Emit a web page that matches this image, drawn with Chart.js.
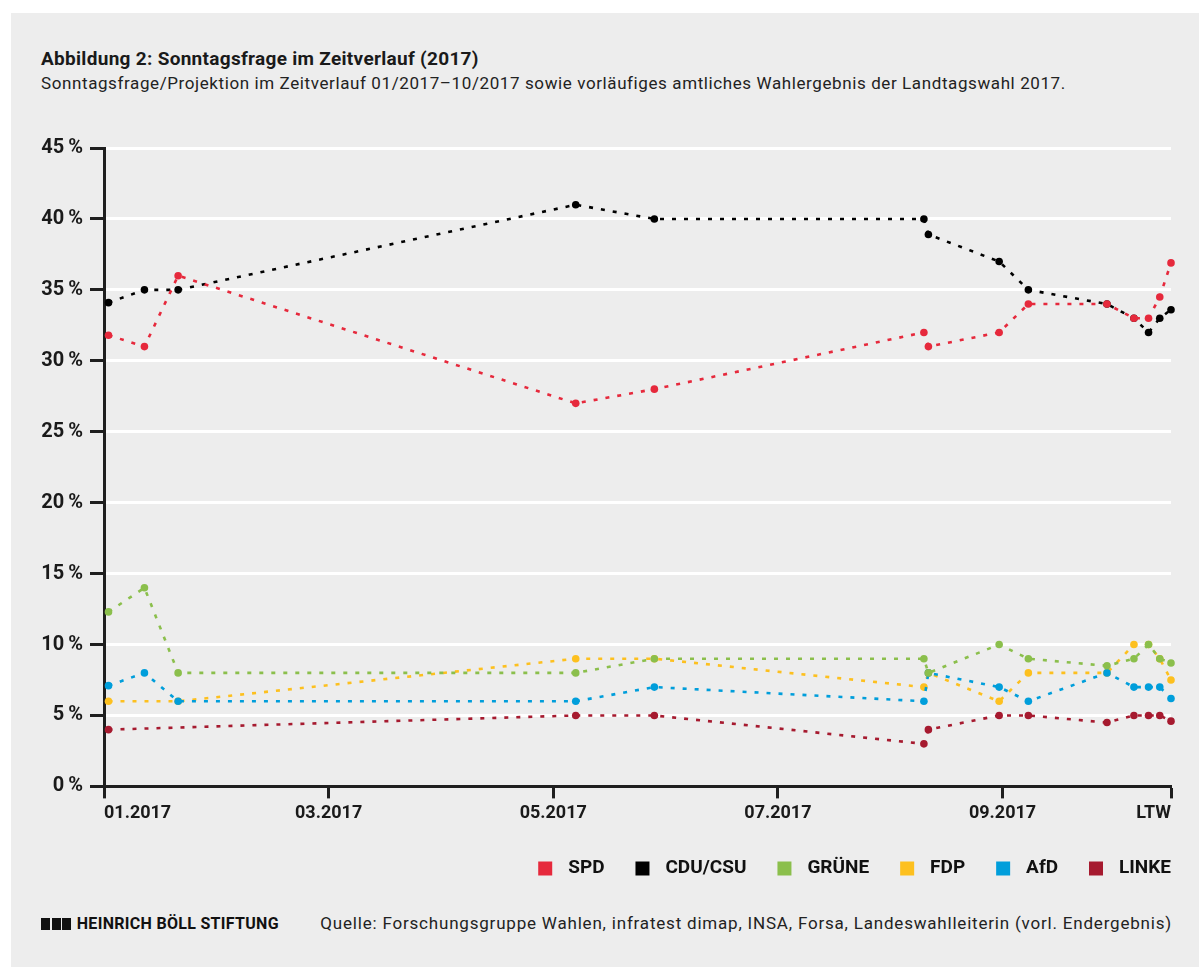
<!DOCTYPE html>
<html>
<head>
<meta charset="utf-8">
<script src="https://cdn.jsdelivr.net/npm/chart.js@4.4.1/dist/chart.umd.min.js"></script>
<style>
  html, body { margin: 0; padding: 0; background: #fff; }
  body { width: 1199px; height: 967px; position: relative; overflow: hidden; font-family: Roboto, "Noto Sans", sans-serif; }
  #panel { position: absolute; left: 11px; top: 13px; right: 0; bottom: 0; background: #ededed; }
  #title { position: absolute; left: 41px; top: 47px; font-size: 19px; font-weight: 700; color: #1a1a1a; letter-spacing: 0.3px; white-space: nowrap; }
  #subtitle { position: absolute; left: 41px; top: 73px; font-size: 17px; color: #222; letter-spacing: 0.6px; white-space: nowrap; }
  #wrap { position: absolute; left: 0; top: 0; width: 1199px; height: 888px; }
  #logo { position: absolute; left: 41px; top: 914px; font-size: 16px; font-weight: 700; color: #111; letter-spacing: 0.3px; white-space: nowrap; }
  #logo span { display: inline-block; width: 9px; height: 12px; background: #111; margin-right: 1.5px; vertical-align: -1px; }
  #source { position: absolute; right: 27px; top: 913px; font-size: 17px; color: #222; white-space: nowrap; letter-spacing: 0.8px; }
</style>
</head>
<body>
<div id="panel"></div>
<div id="title">Abbildung 2: Sonntagsfrage im Zeitverlauf (2017)</div>
<div id="subtitle">Sonntagsfrage/Projektion im Zeitverlauf 01/2017–10/2017 sowie vorläufiges amtliches Wahlergebnis der Landtagswahl 2017.</div>
<div id="wrap"><canvas id="pollChart"></canvas></div>
<div id="logo"><span></span><span></span><span></span> HEINRICH BÖLL STIFTUNG</div>
<div id="source">Quelle: Forschungsgruppe Wahlen, infratest dimap, INSA, Forsa, Landeswahlleiterin (vorl. Endergebnis)</div>

<script>
// poll dates in months since 01.2017 (last one = election day)
const pollDates = [0.04, 0.36, 0.66, 4.2, 4.9, 7.30, 7.34, 7.97, 8.23, 8.93, 9.17, 9.30, 9.40, 9.50];

const spd   = [31.8, 31, 36, 27, 28, 32, 31, 32, 34, 34, 33, 33, 34.5, 36.9];
const cdu   = [34.1, 35, 35, 41, 40, 40, 38.9, 37, 35, 34, 33, 32, 33, 33.6];
const gruene = [12.3, 14, 8, 8, 9, 9, 8, 10, 9, 8.5, 9, 10, 9, 8.7];
const fdp   = [6, null, 6, 9, 9, 7, 8, 6, 8, 8, 10, 10, 9, 7.5];
const afd   = [7.1, 8, 6, 6, 7, 6, 8, 7, 6, 8, 7, 7, 7, 6.2];
const linke = [4, null, null, 5, 5, 3, 4, 5, 5, 4.5, 5, 5, 5, 4.6];

const tickPositions = [0, 2, 4, 6, 8, 9.5];
const tickLabels = ['01.2017', '03.2017', '05.2017', '07.2017', '09.2017', 'LTW'];

function series(label, values, color, order) {
    return {
        label: label,
        data: values.map((v, i) => ({ x: pollDates[i], y: v })),
        borderColor: color,
        backgroundColor: color,
        borderWidth: 2.6,
        borderDash: [4, 8],
        pointRadius: 3.8,
        pointBorderWidth: 0,
        pointHoverRadius: 3.8,
        spanGaps: true,
        tension: 0,
        clip: false,
        order: order
    };
}

// legend is right-aligned to the plot edge, not to the trailing item padding
const legendShift = {
    id: 'legendShift',
    afterLayout(chart) {
        const pad = chart.options.plugins.legend.labels.padding;
        chart.legend.left += pad;
        chart.legend.right += pad;
    }
};

const ctx = document.getElementById('pollChart').getContext('2d');
const pollChart = new Chart(ctx, {
    type: 'line',
    data: {
        datasets: [
            series('SPD', spd, '#e6293c', 1),
            series('CDU/CSU', cdu, '#000000', 2),
            series('GRÜNE', gruene, '#8bbf4c', 3),
            series('FDP', fdp, '#fdc01f', 5),
            series('AfD', afd, '#009edb', 4),
            series('LINKE', linke, '#a61a2f', 6)
        ]
    },
    plugins: [legendShift],
    options: {
        responsive: true,
        maintainAspectRatio: false,
        animation: false,
        layout: { padding: { top: 148, right: 28, left: 0, bottom: 0 } },
        plugins: {
            tooltip: { enabled: false },
            legend: {
                position: 'bottom',
                align: 'end',
                labels: {
                    boxWidth: 14,
                    boxHeight: 14,
                    padding: 31,
                    color: '#111',
                    font: { family: 'Roboto', size: 19, weight: 'bold' },
                    generateLabels(chart) {
                        const items = Chart.defaults.plugins.legend.labels.generateLabels(chart);
                        items.forEach(item => {
                            item.text = '\u2004' + item.text;
                            item.lineWidth = 0;
                            item.lineDash = [];
                        });
                        return items.sort((a, b) => a.datasetIndex - b.datasetIndex);
                    }
                }
            }
        },
        scales: {
            x: {
                type: 'linear',
                min: 0,
                max: 9.5,
                afterBuildTicks(scale) {
                    scale.ticks = tickPositions.map(v => ({ value: v }));
                },
                ticks: {
                    align: 'inner',
                    padding: 4,
                    color: '#1a1a1a',
                    font: { family: 'Roboto', size: 18, weight: 'bold' },
                    callback(value) {
                        const i = tickPositions.indexOf(value);
                        return i >= 0 ? tickLabels[i] : '';
                    }
                },
                grid: {
                    drawOnChartArea: false,
                    drawTicks: true,
                    tickLength: 12,
                    tickColor: '#1e1e1e',
                    tickWidth: 3
                },
                border: { color: '#1e1e1e', width: 3 }
            },
            y: {
                min: 0,
                max: 45,
                afterFit(scale) { scale.width = 104; },
                ticks: {
                    stepSize: 5,
                    padding: 7,
                    color: '#1a1a1a',
                    font: { family: 'Roboto', size: 20, weight: 'bold' },
                    callback: value => value + '\u2009%'
                },
                grid: {
                    color: '#ffffff',
                    lineWidth: 3,
                    tickLength: 14,
                    tickColor: '#1e1e1e',
                    tickWidth: 3
                },
                border: { color: '#1e1e1e', width: 3 }
            }
        }
    }
});
</script>
</body>
</html>
